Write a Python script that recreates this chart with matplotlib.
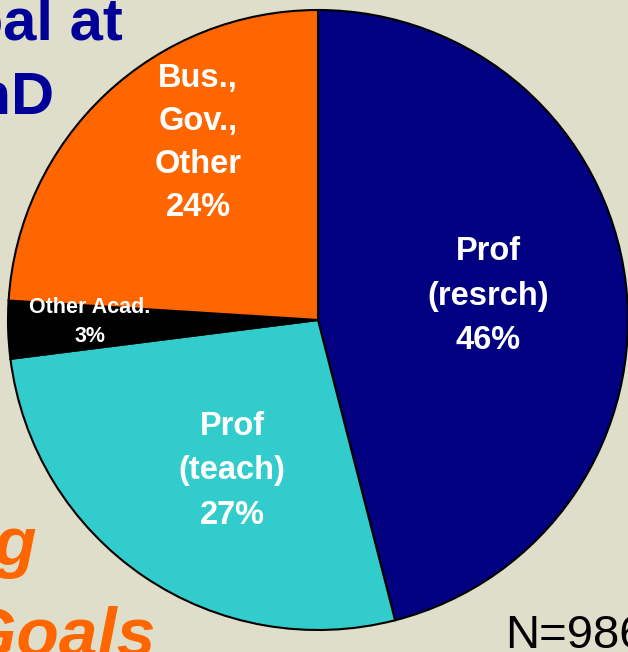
import matplotlib
matplotlib.use("Agg")
import matplotlib.pyplot as plt

# data
categories = ["Prof\n(resrch)", "Prof\n(teach)", "Other Acad.", "Bus.,\nGov.,\nOther"]
shares = [46, 27, 3, 24]
colors = ["#000080", "#33CCCC", "#000000", "#FF6600"]
title_lines = ["Career Goal at", "Start of PhD"]
subtitle_lines = ["Changing", "Career Goals"]
note = "N=986"

W, H = 628, 652
plt.rcParams['font.family'] = ['Liberation Sans', 'DejaVu Sans']
fig = plt.figure(figsize=(W / 100, H / 100), dpi=100)
bg = "#DFDECB"
fig.patch.set_facecolor(bg)
ax = fig.add_axes([0, 0, 1, 1])
ax.set_facecolor(bg)

cx, cy, r = 318, H - 320, 310
wedges, _ = ax.pie(shares, colors=colors, startangle=90, counterclock=False,
                   center=(cx, cy), radius=r, frame=True,
                   wedgeprops=dict(edgecolor="black", linewidth=1.5))
ax.set_xlim(0, W)
ax.set_ylim(0, H)
ax.set_aspect('equal')
ax.axis('off')

# labels (positions in pixel coords)
label_pos = [(488, H - 296), (232, H - 471), (90, H - 322), (198, H - 143)]
sizes = [23.5, 23.5, 15.5, 23.5]
spacings = [1.56, 1.56, 1.5, 1.5]
for cat, s, (x, y), fs, ls in zip(categories, shares, label_pos, sizes, spacings):
    ax.text(x, y, f"{cat}\n{s}%", ha='center', va='center', color='white',
            fontsize=fs, fontweight='bold', linespacing=ls)

# cut-off title texts
ax.text(123, H - 39, title_lines[0], ha='right', va='baseline', color='#000099',
        fontsize=43, fontweight='bold')
ax.text(54, H - 113, title_lines[1], ha='right', va='baseline', color='#000099',
        fontsize=43, fontweight='bold')
ax.text(37, H - 565, subtitle_lines[0], ha='right', va='baseline', color='#FF6600',
        fontsize=50, fontweight='bold', style='italic')
ax.text(155, H - 655, subtitle_lines[1], ha='right', va='baseline', color='#FF6600',
        fontsize=50, fontweight='bold', style='italic')
ax.text(505, H - 648, note, ha='left', va='baseline', color='black', fontsize=34)

fig.savefig("out.png", dpi=100, facecolor=bg)
